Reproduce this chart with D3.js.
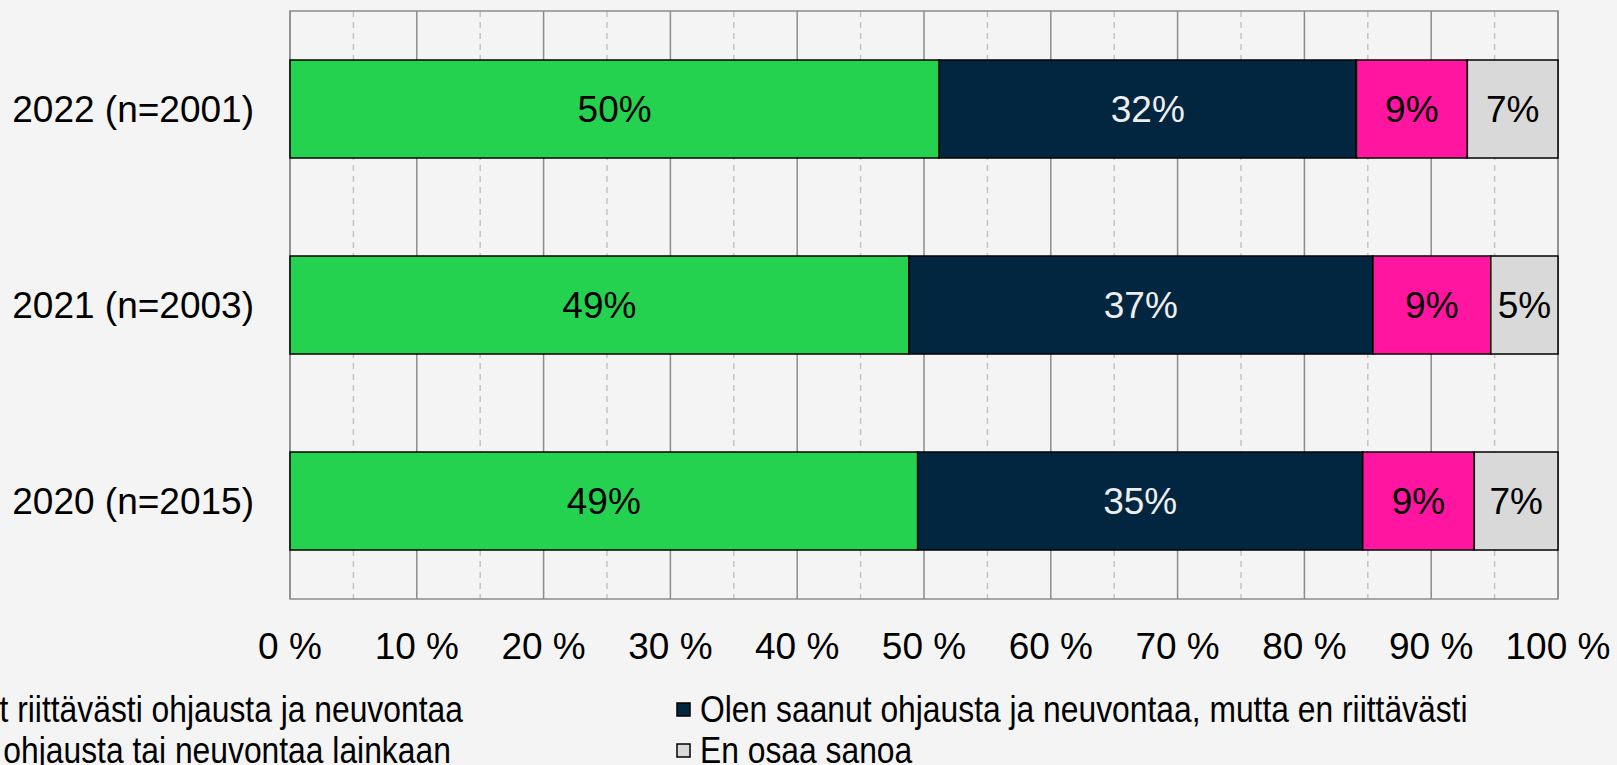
<!DOCTYPE html>
<html>
<head>
<meta charset="utf-8">
<script src="https://cdn.jsdelivr.net/npm/d3@7"></script>
<style>
  html, body { margin: 0; padding: 0; background: #f4f4f4; overflow: hidden; }
  text { font-family: "Liberation Sans", Arial, sans-serif; }
</style>
</head>
<body>
<div id="chart"></div>
<script>
// categories, top to bottom
var years = ["2022 (n=2001)", "2021 (n=2003)", "2020 (n=2015)"];

// series names (legend order)
var seriesNames = [
  "Olen saanut riittävästi ohjausta ja neuvontaa",
  "Olen saanut ohjausta ja neuvontaa, mutta en riittävästi",
  "En ole saanut ohjausta tai neuvontaa lainkaan",
  "En osaa sanoa"
];

// shares per year (%)
var enough    = [51.2, 48.8, 49.5];
var notEnough = [32.9, 36.6, 35.1];
var none      = [8.75, 9.3, 8.8];
var dontKnow  = [7.15, 5.3, 6.6];

// data labels as printed on the bars
var labelsEnough    = ["50%", "49%", "49%"];
var labelsNotEnough = ["32%", "37%", "35%"];
var labelsNone      = ["9%", "9%", "9%"];
var labelsDontKnow  = ["7%", "5%", "7%"];

var xTicks = [0, 10, 20, 30, 40, 50, 60, 70, 80, 90, 100];

var colors = ["#24d24f", "#022540", "#ff159f", "#d9d9d9"];
var textColors = ["#000", "#eeeeee", "#000", "#000"];

var width = 1617, height = 765;
var plotLeft = 290, plotRight = 1558, plotTop = 11, plotBottom = 599;
var fontSize = 37;

var svg = d3.select("#chart").append("svg")
  .attr("width", width)
  .attr("height", height);

svg.append("rect").attr("width", width).attr("height", height).attr("fill", "#f4f4f4");

var x = d3.scaleLinear().domain([0, 100]).range([plotLeft, plotRight]);
var y = d3.scaleBand().domain(years).range([plotTop, plotBottom])
  .paddingInner(0.5).paddingOuter(0.25);

// minor dashed grid
svg.append("g").selectAll("line")
  .data(d3.range(5, 100, 10))
  .enter().append("line")
  .attr("x1", d => x(d)).attr("x2", d => x(d))
  .attr("y1", plotTop).attr("y2", plotBottom)
  .attr("stroke", "#c4c4c4")
  .attr("stroke-width", 1.5)
  .attr("stroke-dasharray", "6,5");

// major grid
svg.append("g").selectAll("line")
  .data(xTicks)
  .enter().append("line")
  .attr("x1", d => x(d)).attr("x2", d => x(d))
  .attr("y1", plotTop).attr("y2", plotBottom)
  .attr("stroke", "#8c8c8c")
  .attr("stroke-width", 1.5);

// plot frame
svg.append("rect")
  .attr("x", plotLeft).attr("y", plotTop)
  .attr("width", plotRight - plotLeft).attr("height", plotBottom - plotTop)
  .attr("fill", "none")
  .attr("stroke", "#8c8c8c")
  .attr("stroke-width", 1.5);

// stack the series
var rows = years.map(function (yr, i) {
  return { year: yr, s0: enough[i], s1: notEnough[i], s2: none[i], s3: dontKnow[i] };
});
var keys = ["s0", "s1", "s2", "s3"];
var labelSets = [labelsEnough, labelsNotEnough, labelsNone, labelsDontKnow];
var stacked = d3.stack().keys(keys)(rows);

stacked.forEach(function (layer, k) {
  var g = svg.append("g");
  g.selectAll("rect")
    .data(layer)
    .enter().append("rect")
    .attr("x", d => x(d[0]))
    .attr("y", d => y(d.data.year))
    .attr("width", d => x(d[1]) - x(d[0]))
    .attr("height", y.bandwidth())
    .attr("fill", colors[k])
    .attr("stroke", "#000")
    .attr("stroke-width", 1.5);

  g.selectAll("text")
    .data(layer)
    .enter().append("text")
    .attr("x", d => (x(d[0]) + x(d[1])) / 2)
    .attr("y", d => y(d.data.year) + y.bandwidth() / 2)
    .attr("dy", "0.35em")
    .attr("text-anchor", "middle")
    .attr("font-size", fontSize)
    .attr("fill", textColors[k])
    .text((d, i) => labelSets[k][i]);
});

// category labels
svg.append("g").selectAll("text")
  .data(years)
  .enter().append("text")
  .attr("x", 254)
  .attr("y", d => y(d) + y.bandwidth() / 2)
  .attr("dy", "0.35em")
  .attr("text-anchor", "end")
  .attr("font-size", fontSize)
  .attr("fill", "#000")
  .text(d => d);

// x tick labels
svg.append("g").selectAll("text")
  .data(xTicks)
  .enter().append("text")
  .attr("x", d => x(d))
  .attr("y", 659)
  .attr("text-anchor", "middle")
  .attr("font-size", fontSize)
  .attr("fill", "#000")
  .text(d => d + " %");

// legend: two columns, the left one runs off the left edge
var legend = svg.append("g");
var legendItems = [
  { i: 0, col: 0, row: 0 },
  { i: 1, col: 1, row: 0 },
  { i: 2, col: 0, row: 1 },
  { i: 3, col: 1, row: 1 }
];
var rowY = [709, 750];
var squeeze = 0.86; // narrow legend type
legendItems.forEach(function (it) {
  var t = legend.append("text")
    .attr("font-size", fontSize)
    .attr("fill", "#000")
    .attr("x", 0)
    .attr("dy", "0.35em")
    .text(seriesNames[it.i]);
  var w = t.node().getComputedTextLength() * squeeze;
  var tx;
  if (it.col === 1) {
    tx = 700;
  } else {
    var endX = it.row === 0 ? 463 : 451;
    tx = endX - w;
  }
  t.attr("transform", "translate(" + tx + "," + rowY[it.row] + ") scale(" + squeeze + ",1)");
  legend.append("rect")
    .attr("x", tx - 23).attr("y", rowY[it.row] - 6)
    .attr("width", 13).attr("height", 13)
    .attr("fill", colors[it.i])
    .attr("stroke", "#000")
    .attr("stroke-width", 1.5);
});
</script>
</body>
</html>
